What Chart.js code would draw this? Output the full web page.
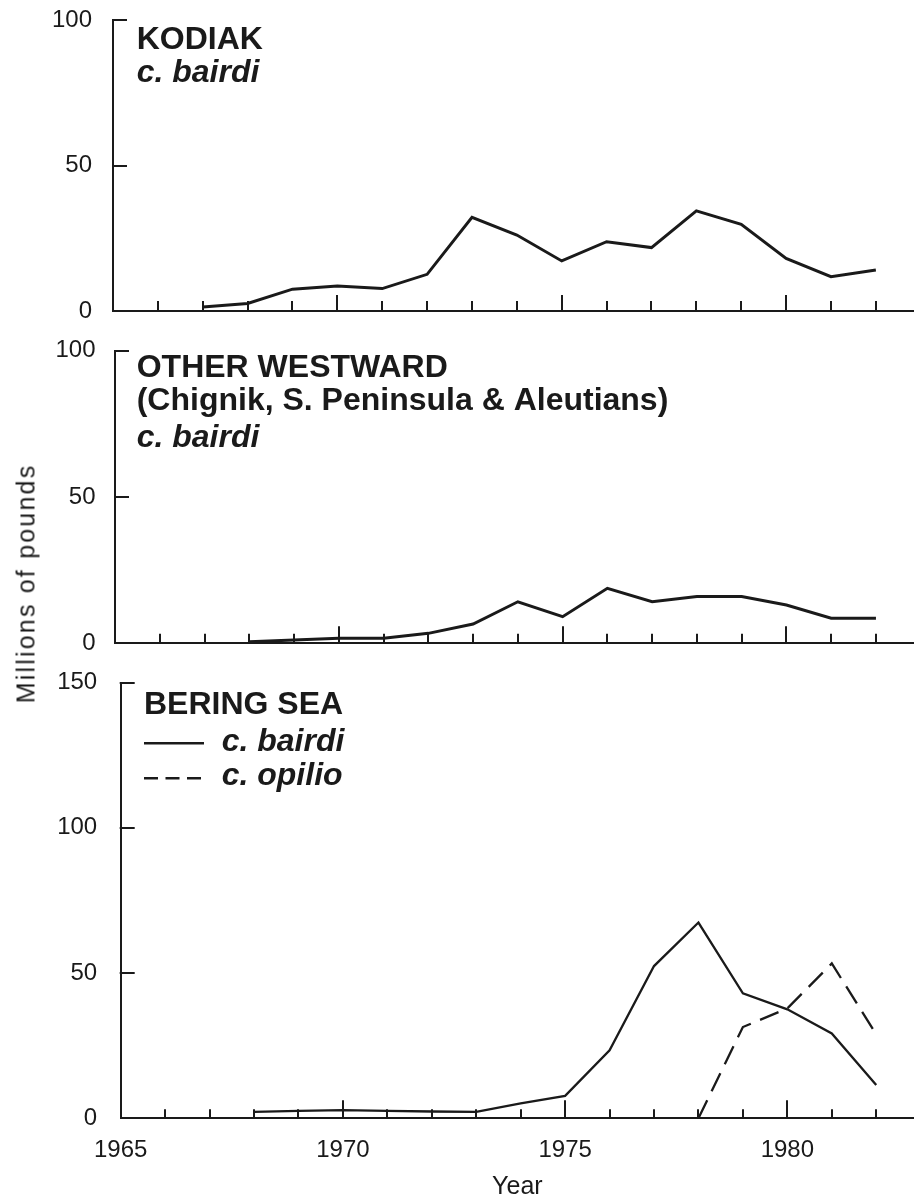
<!DOCTYPE html>
<html>
<head>
<meta charset="utf-8">
<title>Tanner crab landings</title>
<script src="https://cdn.jsdelivr.net/npm/chart.js@4.4.1/dist/chart.umd.min.js"></script>
<style>
  html, body { margin: 0; padding: 0; background: #fff; }
  body { position: relative; width: 914px; height: 1200px; overflow: hidden; }
  canvas { position: absolute; left: 0; display: block; }
  #yTitle {
    position: absolute; left: -125.8px; top: 570.5px; width: 300px; height: 25px;
    line-height: 25px; text-align: center; white-space: nowrap;
    font: 25px "Liberation Sans", Arial, Helvetica, sans-serif; letter-spacing: 2.2px;
    color: #1a1a1a; transform: rotate(-90deg);
  }
</style>
</head>
<body>
<canvas id="kodiak" width="914" height="330" style="top:0"></canvas>
<canvas id="westward" width="914" height="330" style="top:330px"></canvas>
<canvas id="bering" width="914" height="540" style="top:660px"></canvas>
<div id="yTitle">Millions of pounds</div>

<script>
// Landings by season, millions of pounds
const kodiakYears    = [1967, 1968, 1969, 1970, 1971, 1972, 1973, 1974, 1975, 1976, 1977, 1978, 1979, 1980, 1981, 1982];
const kodiakBairdi   = [1.4, 2.6, 7.5, 8.6, 7.7, 12.6, 32.2, 26.1, 17.2, 23.8, 21.8, 34.4, 29.8, 18.1, 11.8, 14.1];

const westwardYears  = [1968, 1969, 1970, 1971, 1972, 1973, 1974, 1975, 1976, 1977, 1978, 1979, 1980, 1981, 1982];
const westwardBairdi = [0.5, 1.1, 1.7, 1.7, 3.4, 6.6, 14.2, 9.1, 18.8, 14.2, 16.0, 16.0, 13.1, 8.6, 8.6];

const beringYears    = [1968, 1969, 1970, 1971, 1972, 1973, 1974, 1975, 1976, 1977, 1978, 1979, 1980, 1981, 1982];
const beringBairdi   = [2.2, 2.5, 2.8, 2.5, 2.3, 2.2, 5.1, 7.7, 23.4, 52.4, 67.4, 43.0, 37.5, 29.2, 11.4];
const opilioYears    = [1978, 1979, 1980, 1981, 1982];
const beringOpilio   = [0, 31.4, 37.8, 53.3, 28.9];

// Axis ticks and labels
const yearTicks    = [1966, 1967, 1968, 1969, 1970, 1971, 1972, 1973, 1974, 1975, 1976, 1977, 1978, 1979, 1980, 1981, 1982];
const labeledYears = [1965, 1970, 1975, 1980];
const ticksTo100   = [0, 50, 100];
const ticksTo150   = [0, 50, 100, 150];

// Panel headings
const kodiakHeading   = ['KODIAK', 'c. bairdi'];
const westwardHeading = ['OTHER WESTWARD', '(Chignik, S. Peninsula & Aleutians)', 'c. bairdi'];
const beringHeading   = ['BERING SEA'];

const INK = '#1a1a1a';
const FAMILY = '"Liberation Sans", Arial, Helvetica, sans-serif';

const pts = (xs, ys) => xs.map((x, i) => ({ x, y: ys[i] }));

// Tick marks (pointing into the plot), headings and the line-style key
function panelMarks(cfg) {
  return {
    id: 'panelMarks',
    afterDraw(chart) {
      const { ctx, chartArea: a, scales: { x, y } } = chart;
      ctx.save();
      ctx.strokeStyle = INK;
      ctx.fillStyle = INK;
      ctx.lineWidth = 2;
      ctx.lineCap = 'butt';
      ctx.beginPath();
      yearTicks.forEach(yr => {
        const px = Math.round(x.getPixelForValue(yr));
        const len = yr % 5 === 0 ? cfg.majorTick : cfg.minorTick;
        ctx.moveTo(px, a.bottom);
        ctx.lineTo(px, a.bottom - len);
      });
      cfg.yTicks.forEach(v => {
        if (v === 0) return;
        const py = Math.round(y.getPixelForValue(v));
        ctx.moveTo(a.left - 1, py);
        ctx.lineTo(a.left + 14, py);
      });
      ctx.stroke();

      ctx.textAlign = 'left';
      ctx.textBaseline = 'alphabetic';
      cfg.lines.forEach(l => {
        ctx.font = l.style + ' 32px ' + FAMILY;
        ctx.fillText(l.text, a.left + l.dx, a.top + l.dy);
      });

      if (cfg.key) {
        chart.data.datasets.forEach((ds, i) => {
          const k = cfg.key[i];
          ctx.save();
          ctx.lineWidth = 2.4;
          ctx.setLineDash(k.dash);
          ctx.beginPath();
          ctx.moveTo(a.left + k.x0, a.top + k.lineDy);
          ctx.lineTo(a.left + k.x1, a.top + k.lineDy);
          ctx.stroke();
          ctx.restore();
          ctx.font = 'italic bold 32px ' + FAMILY;
          ctx.fillText(ds.label, a.left + k.textDx, a.top + k.textDy);
        });
      }
      ctx.restore();
    }
  };
}

function panel(id, cfg) {
  return new Chart(document.getElementById(id), {
    type: 'line',
    data: {
      datasets: cfg.series.map(s => ({
        label: s.label,
        data: pts(s.years, s.values),
        borderColor: INK,
        borderWidth: cfg.lineWidth,
        borderDash: s.dash || [],
        borderCapStyle: 'butt',
        borderJoinStyle: 'miter',
        pointRadius: 0,
        tension: 0,
        fill: false,
        clip: false
      }))
    },
    options: {
      responsive: false,
      animation: false,
      events: [],
      layout: { autoPadding: false, padding: { top: cfg.top, left: 0, right: 0, bottom: 0 } },
      plugins: { legend: { display: false }, tooltip: { enabled: false } },
      scales: {
        x: {
          type: 'linear', min: 1965, max: 1982.85,
          grid: { display: false, drawTicks: false },
          border: { display: true, color: INK, width: 2 },
          afterBuildTicks: s => { s.ticks = labeledYears.map(v => ({ value: v })); },
          afterFit: s => {
            s.height = cfg.xHeight;
            s.paddingLeft = 0; s.paddingRight = 0; s.paddingTop = 0; s.paddingBottom = 0;
          },
          ticks: {
            display: !!cfg.showYears, color: INK, padding: 18,
            font: { family: FAMILY, size: 24, lineHeight: 1.2 },
            maxRotation: 0, autoSkip: false,
            callback: v => String(v)
          },
          title: {
            display: !!cfg.showYears, text: 'Year', color: INK,
            font: { family: FAMILY, size: 25, lineHeight: 1 },
            padding: { top: 0, bottom: 0 }
          }
        },
        y: {
          type: 'linear', min: 0, max: cfg.yMax,
          grid: { display: false, drawTicks: false },
          border: { display: true, color: INK, width: 2 },
          afterBuildTicks: s => { s.ticks = cfg.yTicks.map(v => ({ value: v })); },
          afterFit: s => {
            s.width = cfg.yWidth;
            s.paddingLeft = 0; s.paddingRight = 0; s.paddingTop = 0; s.paddingBottom = 0;
          },
          ticks: {
            color: INK, padding: cfg.yPad,
            font: { family: FAMILY, size: 24, lineHeight: 1 },
            callback: v => String(v)
          }
        }
      }
    },
    plugins: [panelMarks(cfg)]
  });
}

panel('kodiak', {
  top: 20, xHeight: 19, yWidth: 113, yPad: 21, yMax: 100, yTicks: ticksTo100,
  lineWidth: 3, majorTick: 16, minorTick: 10,
  series: [{ label: 'c. bairdi', years: kodiakYears, values: kodiakBairdi }],
  lines: [
    { text: kodiakHeading[0], style: 'bold', dx: 23.7, dy: 29 },
    { text: kodiakHeading[1], style: 'italic bold', dx: 23.7, dy: 62 }
  ]
});

panel('westward', {
  top: 20.7, xHeight: 16.7, yWidth: 115, yPad: 19.5, yMax: 100, yTicks: ticksTo100,
  lineWidth: 3, majorTick: 17, minorTick: 9.5,
  series: [{ label: 'c. bairdi', years: westwardYears, values: westwardBairdi }],
  lines: [
    { text: westwardHeading[0], style: 'bold', dx: 21.7, dy: 26 },
    { text: westwardHeading[1], style: 'bold', dx: 21.7, dy: 59.3 },
    { text: westwardHeading[2], style: 'italic bold', dx: 21.7, dy: 96 }
  ]
});

panel('bering', {
  top: 22.7, xHeight: 81.8, yWidth: 120.7, yPad: 23.5, yMax: 150, yTicks: ticksTo150,
  lineWidth: 2.3, majorTick: 18, minorTick: 9, showYears: true,
  series: [
    { label: 'c. bairdi', years: beringYears, values: beringBairdi },
    { label: 'c. opilio', years: opilioYears, values: beringOpilio, dash: [20, 10] }
  ],
  lines: [
    { text: beringHeading[0], style: 'bold', dx: 23.3, dy: 31.3 }
  ],
  key: [
    { dash: [], x0: 23.3, x1: 83.3, lineDy: 60.6, textDx: 101, textDy: 68 },
    { dash: [14, 7.5], x0: 23.3, x1: 83.3, lineDy: 95.6, textDx: 101, textDy: 102.3 }
  ]
});
</script>
</body>
</html>
